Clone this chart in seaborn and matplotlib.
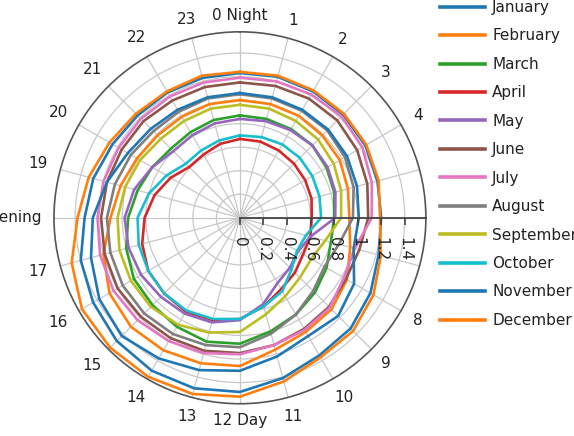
import numpy as np
import pandas as pd
import matplotlib
matplotlib.use("Agg")
import matplotlib.pyplot as plt
import seaborn as sns
from matplotlib.transforms import offset_copy
from matplotlib.lines import Line2D

# ---------------- data ----------------
months = ["January", "February", "March", "April", "May", "June", "July",
          "August", "September", "October", "November", "December"]
hours = list(range(24))
hour_labels = ["0 Night", "1", "2", "3", "4", "5", "6 Morning", "7", "8", "9",
               "10", "11", "12 Day", "13", "14", "15", "16", "17",
               "18 Evening", "19", "20", "21", "22", "23"]
r_ticks = [0, 0.2, 0.4, 0.6, 0.8, 1.0, 1.2, 1.4]
r_tick_labels = ["0", "0.2", "0.4", "0.6", "0.8", "1", "1.2", "1.4"]

jan = [1.23, 1.24, 1.24, 1.24, 1.23, 1.21, 1.20, 1.22, 1.28, 1.33, 1.35, 1.41,
       1.48, 1.50, 1.50, 1.48, 1.44, 1.40, 1.32, 1.29, 1.25, 1.23, 1.23, 1.23]
feb = [1.00, 1.00, 1.00, 0.99, 0.98, 0.95, 0.93, 0.97, 1.05, 1.10, 1.12, 1.16,
       1.26, 1.28, 1.30, 1.31, 1.28, 1.20, 1.10, 1.05, 1.01, 0.99, 0.99, 1.00]
mar = [0.87, 0.87, 0.87, 0.87, 0.85, 0.83, 0.80, 0.80, 0.85, 0.90, 0.95, 1.00,
       1.07, 1.09, 1.07, 1.05, 1.04, 1.00, 0.95, 0.90, 0.86, 0.83, 0.84, 0.86]
apr = [0.67, 0.67, 0.66, 0.65, 0.64, 0.63, 0.61, 0.62, 0.62, 0.66, 0.70, 0.78,
       0.86, 0.90, 0.92, 0.91, 0.90, 0.86, 0.81, 0.75, 0.68, 0.61, 0.62, 0.65]
may = [0.84, 0.85, 0.86, 0.87, 0.86, 0.84, 0.81, 0.62, 0.57, 0.60, 0.64, 0.76,
       0.87, 0.92, 0.94, 0.95, 0.97, 0.98, 0.98, 0.93, 0.86, 0.80, 0.81, 0.83]
jun = [1.15, 1.16, 1.17, 1.17, 1.15, 1.12, 1.09, 1.05, 1.04, 1.07, 1.09, 1.12,
       1.15, 1.17, 1.18, 1.19, 1.20, 1.19, 1.18, 1.17, 1.16, 1.16, 1.15, 1.15]
jul = [1.19, 1.20, 1.21, 1.22, 1.20, 1.16, 1.12, 1.01, 1.02, 1.08, 1.10, 1.12,
       1.16, 1.19, 1.21, 1.23, 1.24, 1.23, 1.21, 1.20, 1.19, 1.19, 1.19, 1.19]
aug = [1.05, 1.05, 1.05, 1.05, 1.03, 1.00, 0.96, 0.87, 0.83, 0.88, 0.95, 1.02,
       1.10, 1.12, 1.14, 1.15, 1.15, 1.14, 1.13, 1.10, 1.07, 1.04, 1.04, 1.05]
sep = [0.96, 0.96, 0.95, 0.94, 0.92, 0.89, 0.86, 0.75, 0.70, 0.72, 0.77, 0.85,
       0.97, 1.01, 1.05, 1.07, 1.07, 1.06, 1.04, 1.01, 0.98, 0.95, 0.95, 0.96]
oct_ = [0.70, 0.71, 0.72, 0.72, 0.71, 0.70, 0.69, 0.58, 0.56, 0.62, 0.72, 0.78,
        0.86, 0.89, 0.91, 0.91, 0.90, 0.89, 0.87, 0.80, 0.72, 0.65, 0.66, 0.68]
nov = [1.06, 1.06, 1.06, 1.06, 1.05, 1.03, 1.01, 1.00, 1.12, 1.18, 1.16, 1.22,
       1.30, 1.34, 1.38, 1.42, 1.38, 1.31, 1.25, 1.17, 1.10, 1.07, 1.06, 1.06]
dec = [1.24, 1.25, 1.25, 1.25, 1.24, 1.22, 1.19, 1.24, 1.31, 1.36, 1.37, 1.44,
       1.52, 1.55, 1.56, 1.56, 1.55, 1.48, 1.38, 1.33, 1.28, 1.25, 1.24, 1.25]

series = [jan, feb, mar, apr, may, jun, jul, aug, sep, oct_, nov, dec]
colors = ["#1f77b4", "#ff7f0e", "#2ca02c", "#d62728", "#9467bd", "#8c564b",
          "#e377c2", "#7f7f7f", "#bcbd22", "#17becf", "#1f77b4", "#ff7f0e"]

# ---------------- long table ----------------
rows = []
for m, vals in zip(months, series):
    for h, v in zip(hours + [24], vals + [vals[0]]):
        rows.append((m, h, v))
df = pd.DataFrame(rows, columns=["month", "hour", "value"])
df["theta"] = df["hour"] / 24 * 2 * np.pi

# ---------------- figure ----------------
plt.rcParams["font.family"] = ["DejaVu Sans"]
fig = plt.figure(figsize=(5.74, 4.36), dpi=100)
ax = fig.add_axes([0.094, 0.074, 0.648, 0.853], projection="polar")
ax.set_theta_zero_location("N")
ax.set_theta_direction(-1)

sns.lineplot(data=df, x="theta", y="value", hue="month", hue_order=months,
             palette=colors, estimator=None, sort=True, linewidth=1.9,
             ax=ax, legend=False)

rmax = 1.58
ax.set_ylim(0, rmax)
theta_ticks = np.array(hours) / 24 * 2 * np.pi
ax.set_xticks(theta_ticks)
ax.set_xticklabels([""] * len(hours))
ax.set_yticks(r_ticks)
ax.set_yticklabels([])
ax.set_xlabel("")
ax.set_ylabel("")
ax.grid(True, color="#c8c8c8", linewidth=0.9)
ax.spines["polar"].set_color("#555555")
ax.spines["polar"].set_linewidth(1.2)
ax.tick_params(axis="x", which="major", direction="out", length=4, width=1,
               color="#555555")
ax.tick_params(axis="y", length=0)

# hour labels outside the circle, kept clear of it
hour_texts = []
for th, lab in zip(theta_ticks, hour_labels):
    t = ax.text(th, rmax, lab, ha="center", va="center", fontsize=11,
                color="#222222", clip_on=False)
    hour_texts.append((th, t))
fig.canvas.draw()
renderer = fig.canvas.get_renderer()
for th, t in hour_texts:
    bb = t.get_window_extent(renderer)
    s, c = np.sin(th), np.cos(th)
    d = 9 + 3 * abs(s) + bb.width / 2 * abs(s) + bb.height / 2 * abs(c)
    t.set_transform(offset_copy(ax.transData, fig=fig, x=d * s, y=d * c,
                                units="dots"))

# radial axis line along the 6 o'clock direction with its ticks and labels
ang = np.pi / 2
ax.plot([ang, ang], [0, rmax], color="#444444", linewidth=1.3, zorder=10,
        clip_on=False)
ax.plot([ang] * len(r_ticks), r_ticks, linestyle="none", marker=3,
        markersize=5, markeredgewidth=1.2, color="#444444", zorder=10,
        clip_on=False)
tr = offset_copy(ax.transData, fig=fig, x=0, y=-19, units="dots")
for t, lab in zip(r_ticks, r_tick_labels):
    ax.text(ang, t, lab, transform=tr, rotation=-90, ha="center", va="top",
            fontsize=11, color="#222222", zorder=11)

handles = [Line2D([], [], color=c, linewidth=2.6) for c in colors]
leg = fig.legend(handles, months, loc="upper left",
                 bbox_to_anchor=(434 / 574, 1.014), frameon=True,
                 fontsize=11, handlelength=2.95, handletextpad=0.46,
                 labelspacing=0.88, borderpad=0.4, borderaxespad=0)
leg.get_frame().set_facecolor("white")
leg.get_frame().set_edgecolor("white")
leg.get_frame().set_alpha(1)
for txt in leg.get_texts():
    txt.set_color("#222222")

fig.savefig("out.png", dpi=100)
